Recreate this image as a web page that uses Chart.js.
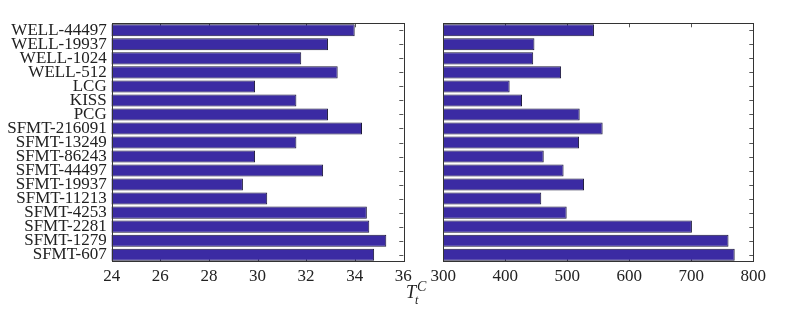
<!DOCTYPE html>
<html>
<head>
<meta charset="utf-8">
<script src="https://cdn.jsdelivr.net/npm/chart.js@4"></script>
<style>
  html, body { margin: 0; padding: 0; background: #fff; }
  #wrap { position: relative; width: 789px; height: 313px; overflow: hidden; }
  #left { position: absolute; left: 0; top: 0; }
  #right { position: absolute; left: 420px; top: 0; }
</style>
</head>
<body>
<div id="wrap">
  <canvas id="left" width="430" height="313"></canvas>
  <canvas id="right" width="369" height="313"></canvas>
</div>
<script>
const generators = [
  "WELL-44497", "WELL-19937", "WELL-1024", "WELL-512", "LCG", "KISS", "PCG",
  "SFMT-216091", "SFMT-13249", "SFMT-86243", "SFMT-44497", "SFMT-19937",
  "SFMT-11213", "SFMT-4253", "SFMT-2281", "SFMT-1279", "SFMT-607"
];
const leftValues = [
  34.0, 32.9, 31.8, 33.3, 29.9, 31.6, 32.9,
  34.3, 31.6, 29.9, 32.7, 29.4,
  30.4, 34.5, 34.6, 35.3, 34.8
];
const rightValues = [
  543, 447, 445, 490, 407, 427, 520,
  557, 519, 462, 494, 527,
  458, 499, 701, 760, 770
];
const leftTicks = [24, 26, 28, 30, 32, 34, 36];
const rightTicks = [300, 400, 500, 600, 700, 800];

const BAR = "rgb(59, 43, 163)";
const FONT = "'Liberation Serif', 'DejaVu Serif', serif";

// frame + inward tick marks, like the matlab box
const boxPlugin = {
  id: "box",
  beforeDatasetsDraw(chart) {
    const ctx = chart.ctx, a = chart.chartArea;
    const xs = chart.scales.x, ys = chart.scales.y;
    ctx.save();
    ctx.strokeStyle = "#555";
    ctx.lineWidth = 1;
    ctx.beginPath();
    xs.ticks.forEach((t, i) => {
      if (i == 0 || i == xs.ticks.length - 1) return;
      const x = Math.round(xs.getPixelForValue(t.value)) + 0.5;
      ctx.moveTo(x, a.top); ctx.lineTo(x, a.top + 4);
      ctx.moveTo(x, a.bottom); ctx.lineTo(x, a.bottom - 4);
    });
    ys.ticks.forEach((t, i) => {
      const y = Math.round(ys.getPixelForTick(i)) + 0.5;
      ctx.moveTo(a.right, y); ctx.lineTo(a.right - 4, y);
    });
    ctx.stroke();
    ctx.restore();
  },
  afterDatasetsDraw(chart) {
    const ctx = chart.ctx, a = chart.chartArea;
    ctx.save();
    ctx.strokeStyle = "#333";
    ctx.lineWidth = 1;
    ctx.strokeRect(Math.round(a.left) + 0.5, Math.round(a.top) + 0.5,
      Math.round(a.right - a.left), Math.round(a.bottom - a.top));
    ctx.restore();
  }
};

// T_t^C axis label between the two panels
const labelPlugin = {
  id: "tlabel",
  afterDraw(chart) {
    const ctx = chart.ctx;
    ctx.save();
    ctx.fillStyle = "#222";
    ctx.textBaseline = "alphabetic";
    ctx.font = "italic 18px " + FONT;
    ctx.fillText("T", 406, 298);
    ctx.font = "italic 12px " + FONT;
    ctx.fillText("t", 415, 304);
    ctx.font = "italic 14px " + FONT;
    ctx.fillText("C", 417, 291);
    ctx.restore();
  }
};

function makeChart(id, values, ticks, opts) {
  const ctx = document.getElementById(id);
  return new Chart(ctx, {
    type: "bar",
    data: {
      labels: generators,
      datasets: [{
        data: values,
        backgroundColor: BAR,
        borderColor: "#1a1638",
        borderWidth: 1,
        borderSkipped: false,
        barPercentage: 0.86,
        categoryPercentage: 1.0,
      }],
    },
    options: {
      indexAxis: "y",
      responsive: false,
      animation: false,
      layout: { padding: { top: 23.3, right: opts.padRight, left: 0, bottom: 0 } },
      plugins: { legend: { display: false }, tooltip: { enabled: false } },
      scales: {
        x: {
          type: "linear",
          min: ticks[0],
          max: ticks[ticks.length - 1],
          afterBuildTicks: (s) => { s.ticks = ticks.map(v => ({ value: v })); },
          afterFit: (s) => { s.height = 51.3; },
          grid: { display: false, drawTicks: false },
          border: { display: false },
          ticks: {
            padding: 5,
            color: "#222",
            font: { family: FONT, size: 17 },
            maxRotation: 0,
          },
        },
        y: {
          afterFit: (s) => { s.width = opts.yWidth; },
          grid: { display: false, drawTicks: false },
          border: { display: false },
          ticks: {
            display: opts.showY,
            padding: 5,
            color: "#222",
            autoSkip: false,
            font: { family: FONT, size: 17 },
          },
        },
      },
    },
    plugins: opts.extra,
  });
}

makeChart("left", leftValues, leftTicks, {
  padRight: 26.7, yWidth: 111.7, showY: true, extra: [boxPlugin, labelPlugin]
});
makeChart("right", rightValues, rightTicks, {
  padRight: 35.7, yWidth: 23.3, showY: false, extra: [boxPlugin]
});
</script>
</body>
</html>
